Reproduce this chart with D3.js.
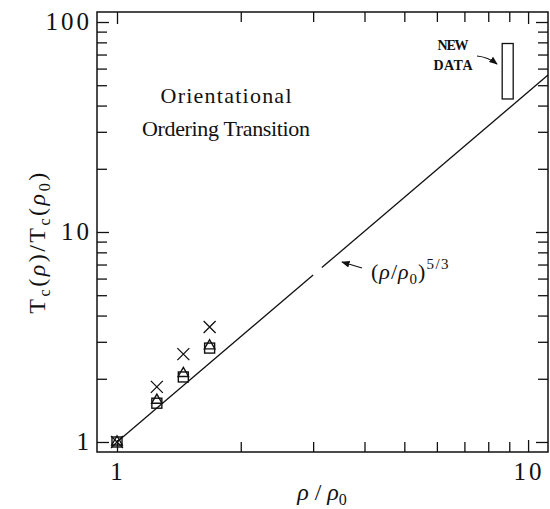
<!DOCTYPE html>
<html><head><meta charset="utf-8">
<script src="https://cdn.jsdelivr.net/npm/d3@7"></script>
<style>body{margin:0;background:#fff}svg{display:block}</style>
</head><body>
<svg id="c" width="550" height="509"></svg>
<script>
// ---- data ----
const densities = [1, 1.25, 1.45, 1.68];
const squares   = [1, 1.53, 2.04, 2.80];
const triangles = [1, 1.58, 2.12, 2.87];
const crosses   = [1, 1.83, 2.62, 3.53];
const newDataX  = [8.65, 9.2];
const newDataY  = [43, 79];
const xMajor = [1, 10];
const yMajor = [1, 10, 100];
const lawExponent = 5/3;

const W = 550, H = 509;
const m = {l:97, r:2, t:12, b:57};
const svg = d3.select("#c");
const x = d3.scaleLog().domain([0.894, 11.18]).range([m.l, W - m.r]);
const y = d3.scaleLog().domain([0.896, 111.6]).range([H - m.b, m.t]);
const x0 = m.l, x1 = W - m.r, y0 = H - m.b, y1 = m.t;

const xMinor = [2,3,4,5,6,7,8,9];
const yMinor = [2,3,4,5,6,7,8,9,20,30,40,50,60,70,80,90];
const ink = "#111";
const g = svg.append("g");

// frame
g.append("rect").attr("x", x0).attr("y", y1).attr("width", x1-x0).attr("height", y0-y1)
  .attr("fill","none").attr("stroke",ink).attr("stroke-width",1.5);

// axes via d3 axis generators (inner ticks on all sides)
function tickAxis(axisFn, scale, vals, len, tr){
  const a = axisFn(scale).tickValues(vals).tickSize(len).tickFormat("");
  const gg = g.append("g").attr("transform", tr).call(a);
  gg.select(".domain").remove();
  gg.selectAll(".tick line").attr("stroke", ink).attr("stroke-width", 1.3);
  return gg;
}
tickAxis(d3.axisTop, x, xMajor, 12, `translate(0,${y0})`);
tickAxis(d3.axisTop, x, xMinor, 10, `translate(0,${y0})`);
tickAxis(d3.axisBottom, x, xMajor, 12, `translate(0,${y1})`);
tickAxis(d3.axisBottom, x, xMinor, 10, `translate(0,${y1})`);
tickAxis(d3.axisRight, y, yMajor, 12, `translate(${x0},0)`);
tickAxis(d3.axisRight, y, yMinor, 10, `translate(${x0},0)`);
tickAxis(d3.axisLeft, y, yMajor, 12, `translate(${x1},0)`);
tickAxis(d3.axisLeft, y, yMinor, 10, `translate(${x1},0)`);

// tick labels
const lblFont = "'Liberation Serif', 'DejaVu Serif', serif";
g.selectAll(".xl").data(xMajor).enter().append("text")
  .attr("x", d => x(d) + 1).attr("y", 480).attr("text-anchor","middle")
  .attr("font-family", lblFont).attr("font-size", 25).attr("letter-spacing", 3).attr("fill", ink)
  .text(d => d);
g.selectAll(".yl").data(yMajor).enter().append("text")
  .attr("x", 92).attr("y", d => y(d) + 8).attr("text-anchor","end")
  .attr("font-family", lblFont).attr("font-size", 25).attr("letter-spacing", 3).attr("fill", ink)
  .text(d => d);

// axis titles
const xt = g.append("text").attr("x", 322).attr("y", 500).attr("text-anchor","middle")
  .attr("font-family", lblFont).attr("font-size", 24).attr("fill", ink);
xt.append("tspan").attr("font-style","italic").text("ρ");
xt.append("tspan").text(" / ");
xt.append("tspan").attr("font-style","italic").text("ρ");
xt.append("tspan").attr("font-size", 16).attr("dy", 5).text("0");

const yt = g.append("text").attr("transform", "translate(45,242) rotate(-90)").attr("text-anchor","middle")
  .attr("font-family", lblFont).attr("font-size", 24).attr("letter-spacing", 2.5).attr("fill", ink);
yt.append("tspan").text("T");
yt.append("tspan").attr("font-size", 16).attr("dy", 5).text("c");
yt.append("tspan").attr("dy", -5).text("(");
yt.append("tspan").attr("font-style","italic").text("ρ");
yt.append("tspan").text(")/T");
yt.append("tspan").attr("font-size", 16).attr("dy", 5).text("c");
yt.append("tspan").attr("dy", -5).text("(");
yt.append("tspan").attr("font-style","italic").text("ρ");
yt.append("tspan").attr("font-size", 16).attr("dy", 5).text("0");
yt.append("tspan").attr("dy", -5).text(")");

// power law line with small gap
const law = d => Math.pow(d, lawExponent);
const seg1 = [1, 3.0], seg2 = [3.15, x.domain()[1]];
const line = d3.line().x(d => x(d)).y(d => y(law(d)));
[seg1, seg2].forEach(s => g.append("path").attr("d", line(s)).attr("fill","none")
  .attr("stroke", ink).attr("stroke-width", 1.3));

// markers
const pts = (vals) => densities.map((d,i) => [d, vals[i]]);
const ms = 10;
g.selectAll(".sq").data(pts(squares)).enter().append("rect")
  .attr("x", d => x(d[0]) - ms/2).attr("y", d => y(d[1]) - ms/2).attr("width", ms).attr("height", ms)
  .attr("fill","none").attr("stroke", ink).attr("stroke-width", 1.4);
const tri = d3.symbol().type(d3.symbolTriangle).size(48);
g.selectAll(".tr").data(pts(triangles)).enter().append("path")
  .attr("d", tri).attr("transform", d => `translate(${x(d[0])},${y(d[1])})`)
  .attr("fill","none").attr("stroke", ink).attr("stroke-width", 1.4);
const cr = 6;
g.selectAll(".cx").data(pts(crosses)).enter().append("path")
  .attr("d", d => { const cx = x(d[0]), cy = y(d[1]);
     return `M${cx-cr},${cy-cr}L${cx+cr},${cy+cr}M${cx-cr},${cy+cr}L${cx+cr},${cy-cr}`; })
  .attr("fill","none").attr("stroke", ink).attr("stroke-width", 1.3);

// new data box
g.append("rect").attr("x", x(newDataX[0])).attr("y", y(newDataY[1]))
  .attr("width", x(newDataX[1]) - x(newDataX[0])).attr("height", y(newDataY[0]) - y(newDataY[1]))
  .attr("fill","none").attr("stroke", ink).attr("stroke-width", 1.3);

// title
const tFont = "'Liberation Serif', serif";
g.append("text").attr("x", 226).attr("y", 103).attr("text-anchor","middle")
  .attr("font-family", tFont).attr("font-size", 22).attr("fill", ink)
  .attr("textLength", 131).attr("lengthAdjust","spacing").text("Orientational");
g.append("text").attr("x", 226).attr("y", 136).attr("text-anchor","middle")
  .attr("font-family", tFont).attr("font-size", 22).attr("fill", ink)
  .attr("textLength", 168).attr("lengthAdjust","spacing").text("Ordering Transition");

// NEW DATA annotation
const aFont = "'Liberation Serif', serif";
g.append("text").attr("x", 453).attr("y", 50).attr("text-anchor","middle")
  .attr("font-family", aFont).attr("font-weight","bold").attr("font-size", 14).attr("fill", ink)
  .attr("textLength", 31).attr("lengthAdjust","spacing").text("NEW");
g.append("text").attr("x", 453).attr("y", 70).attr("text-anchor","middle")
  .attr("font-family", aFont).attr("font-weight","bold").attr("font-size", 14).attr("fill", ink)
  .attr("textLength", 39).attr("lengthAdjust","spacing").text("DATA");

svg.append("defs").append("marker").attr("id","ah").attr("viewBox","0 0 10 10")
  .attr("refX", 9).attr("refY", 5).attr("markerWidth", 7).attr("markerHeight", 7).attr("orient","auto")
  .append("path").attr("d","M0,1L10,5L0,9Z").attr("fill", ink);
g.append("path").attr("d","M477,56 Q488,57 497,64").attr("fill","none").attr("stroke",ink)
  .attr("stroke-width",1.2).attr("marker-end","url(#ah)");
g.append("path").attr("d","M362,268 L342,262").attr("fill","none").attr("stroke",ink)
  .attr("stroke-width",1.2).attr("marker-end","url(#ah)");

// law label
const ll = g.append("text").attr("x", 371).attr("y", 279)
  .attr("font-family", lblFont).attr("font-size", 22).attr("letter-spacing", 1).attr("fill", ink);
ll.append("tspan").text("(");
ll.append("tspan").attr("font-style","italic").text("ρ");
ll.append("tspan").text("/");
ll.append("tspan").attr("font-style","italic").text("ρ");
ll.append("tspan").attr("font-size", 15).attr("dy", 5).text("0");
ll.append("tspan").attr("dy", -5).text(")");
ll.append("tspan").attr("font-size", 15).attr("dy", -10).attr("letter-spacing", 1.5).text("5/3");
</script>
</body></html>
